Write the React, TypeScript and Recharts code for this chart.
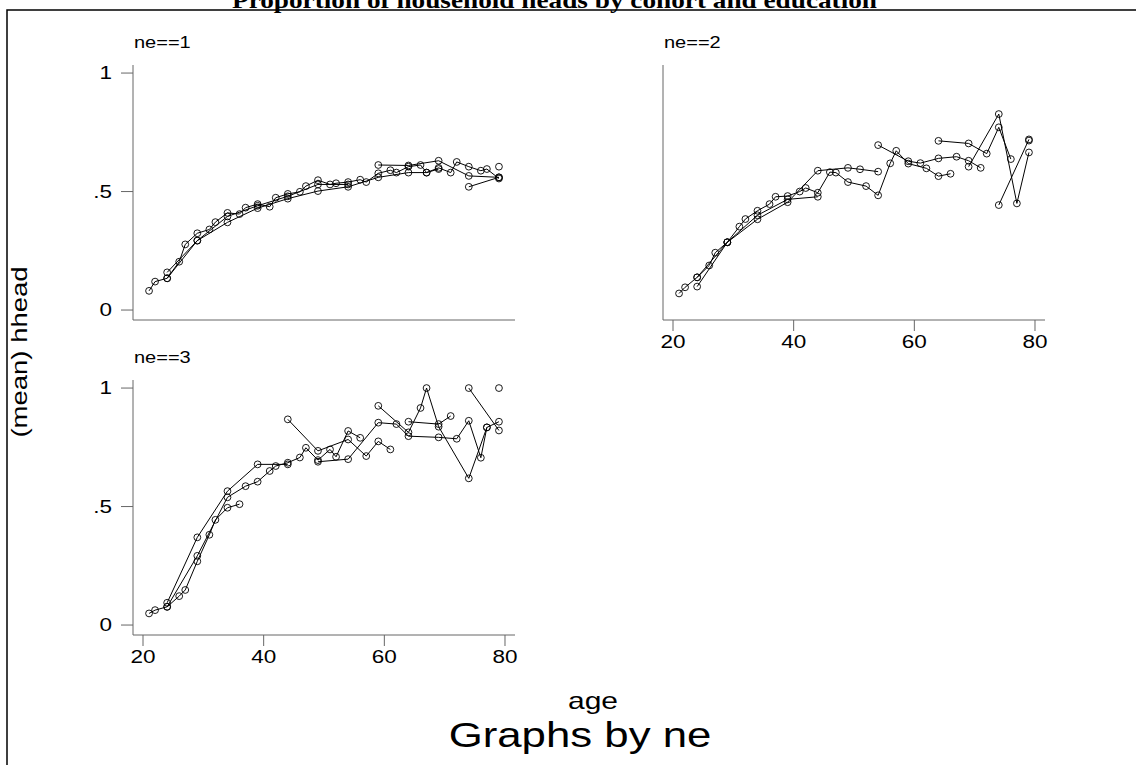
import React from 'react'
import { Scatter, ScatterChart, XAxis, YAxis } from 'recharts'

document.body.style.margin = '0'

type Pt = [number, number]

// ne == 1
const ne1A: Pt[] = [
  [21, 0.081], [22, 0.12], [24, 0.134], [26, 0.204], [27, 0.277], [29, 0.324], [31, 0.34],
  [32, 0.371], [34, 0.41], [36, 0.405], [37, 0.432], [39, 0.447], [41, 0.436], [42, 0.474],
  [44, 0.49], [46, 0.499], [47, 0.523], [49, 0.548], [51, 0.53], [52, 0.535], [54, 0.54],
  [56, 0.55], [57, 0.54], [59, 0.577], [61, 0.59], [62, 0.58], [64, 0.605], [66, 0.612],
  [67, 0.58], [69, 0.6], [71, 0.58], [72, 0.625], [74, 0.605], [76, 0.588], [77, 0.595], [79, 0.555],
]
const ne1B: Pt[] = [
  [24, 0.159], [29, 0.293], [34, 0.37], [39, 0.43], [44, 0.47], [49, 0.502], [54, 0.52],
  [59, 0.56], [64, 0.58], [67, 0.58], [69, 0.595],
]
const ne1C: Pt[] = [[24, 0.134], [29, 0.293], [34, 0.395], [39, 0.44], [44, 0.48], [49, 0.53], [54, 0.53]]
const ne1D: Pt[] = [[59, 0.612], [64, 0.61], [69, 0.63], [74, 0.566], [79, 0.56]]
const ne1E: Pt[] = [[74, 0.52], [79, 0.56]]
const ne1F: Pt[] = [[79, 0.605]]

// ne == 2
const ne2A: Pt[] = [
  [21, 0.07], [22, 0.096], [24, 0.138], [26, 0.188], [27, 0.242], [29, 0.286], [31, 0.352],
  [32, 0.384], [34, 0.419], [36, 0.447], [37, 0.478], [39, 0.481], [41, 0.5], [42, 0.515],
  [44, 0.495], [46, 0.582], [47, 0.58], [49, 0.54], [52, 0.523], [54, 0.484], [56, 0.619],
  [57, 0.672], [59, 0.618], [62, 0.598], [64, 0.565], [66, 0.575],
]
const ne2B: Pt[] = [[24, 0.099], [29, 0.286], [34, 0.4], [39, 0.467], [44, 0.478]]
const ne2C: Pt[] = [[24, 0.138], [29, 0.286], [34, 0.383], [39, 0.455], [44, 0.588], [49, 0.6], [51, 0.594], [54, 0.584]]
const ne2D: Pt[] = [[54, 0.696], [59, 0.628], [61, 0.62], [64, 0.64], [67, 0.647], [69, 0.63], [71, 0.6]]
const ne2E: Pt[] = [[64, 0.714], [69, 0.703], [72, 0.66], [74, 0.771], [76, 0.637]]
const ne2F: Pt[] = [[69, 0.605], [74, 0.827], [77, 0.45], [79, 0.665]]
const ne2G: Pt[] = [[74, 0.443], [79, 0.72]]
const ne2H: Pt[] = [[79, 0.715]]

// ne == 3
const ne3A: Pt[] = [
  [21, 0.049], [22, 0.063], [24, 0.077], [26, 0.122], [27, 0.148], [29, 0.269], [31, 0.381],
  [32, 0.444], [34, 0.495], [36, 0.51],
]
const ne3B: Pt[] = [[24, 0.094], [29, 0.37], [34, 0.565], [39, 0.678], [44, 0.678]]
const ne3C: Pt[] = [
  [24, 0.077], [29, 0.292], [34, 0.539], [37, 0.586], [39, 0.605], [41, 0.65], [42, 0.671],
  [44, 0.685], [46, 0.707], [47, 0.748], [49, 0.696], [51, 0.741], [52, 0.71], [54, 0.819], [56, 0.79],
]
const ne3D: Pt[] = [[44, 0.868], [49, 0.735], [54, 0.783], [57, 0.713], [59, 0.775], [61, 0.741]]
const ne3E: Pt[] = [
  [49, 0.689], [54, 0.7], [59, 0.854], [62, 0.848], [64, 0.797], [69, 0.792], [72, 0.786],
  [74, 0.862], [76, 0.706], [77, 0.834], [79, 0.858],
]
const ne3F: Pt[] = [[59, 0.925], [64, 0.813], [66, 0.916], [67, 1.0], [69, 0.837], [74, 0.619], [77, 0.834]]
const ne3G: Pt[] = [[64, 0.858], [69, 0.848], [71, 0.882]]
const ne3H: Pt[] = [[74, 1.0], [79, 0.821]]
const ne3I: Pt[] = [[79, 1.0]]

const panel1 = [ne1A, ne1B, ne1C, ne1D, ne1E, ne1F]
const panel2 = [ne2A, ne2B, ne2C, ne2D, ne2E, ne2F, ne2G, ne2H]
const panel3 = [ne3A, ne3B, ne3C, ne3D, ne3E, ne3F, ne3G, ne3H, ne3I]

const ageTicks = [20, 40, 60, 80]
const headTicks = [0, 0.5, 1]

const SANS = '"Liberation Sans", Arial, sans-serif'
const STRETCH = 1.25
const AXIS = '#666'

const fmtHead = (v: number) => (v === 0.5 ? '.5' : String(v))

const XTick = ({ x, y, payload }: any) => (
  <text
    transform={`translate(${x},${y + 14}) scale(${STRETCH},1)`}
    textAnchor="middle"
    fontFamily={SANS}
    fontSize={18}
    fill="#000"
  >
    {payload.value}
  </text>
)

const YTick = ({ x, y, payload }: any) => (
  <text
    transform={`translate(${x},${y + 6}) scale(${STRETCH},1)`}
    textAnchor="end"
    fontFamily={SANS}
    fontSize={18}
    fill="#000"
  >
    {fmtHead(payload.value)}
  </text>
)

const Ring = (props: any) => (
  <circle cx={props.cx} cy={props.cy} r={3.4} fill="none" stroke="#000" strokeWidth={0.9} />
)

function Panel({
  series,
  left,
  top,
  xLabels,
  yLabels,
}: {
  series: Pt[][]
  left: number
  top: number
  xLabels: boolean
  yLabels: boolean
}) {
  return (
    <div style={{ position: 'absolute', left, top }}>
      <ScatterChart width={560} height={360} margin={{ top: 65, left: 73, right: 45, bottom: 10 }}>
        <XAxis
          type="number"
          dataKey="x"
          domain={[18.34, 81.66]}
          ticks={ageTicks}
          allowDataOverflow
          height={30}
          tickSize={11}
          tickMargin={3}
          axisLine={{ stroke: AXIS }}
          tickLine={{ stroke: AXIS }}
          tick={xLabels ? <XTick /> : false}
        />
        <YAxis
          type="number"
          dataKey="y"
          domain={[-0.042, 1.034]}
          ticks={headTicks}
          allowDataOverflow
          width={60}
          tickSize={12}
          tickMargin={9}
          axisLine={{ stroke: AXIS }}
          tickLine={{ stroke: AXIS }}
          tick={yLabels ? <YTick /> : false}
        />
        {series.map((s, i) => (
          <Scatter
            key={i}
            data={s.map(([x, y]) => ({ x, y }))}
            line={{ stroke: '#000', strokeWidth: 1 }}
            shape={<Ring />}
            isAnimationActive={false}
          />
        ))}
      </ScatterChart>
    </div>
  )
}

function Stretched({
  x,
  y,
  size,
  anchor = 'start',
  rotate = 0,
  children,
}: {
  x: number
  y: number
  size: number
  anchor?: 'start' | 'middle' | 'end'
  rotate?: number
  children: React.ReactNode
}) {
  return (
    <text
      transform={`translate(${x},${y}) rotate(${rotate}) scale(${STRETCH},1)`}
      textAnchor={anchor}
      fontFamily={SANS}
      fontSize={size}
      fill="#000"
    >
      {children}
    </text>
  )
}

export default function App() {
  return (
    <div style={{ position: 'relative', width: 1136, height: 765, background: '#fff', overflow: 'hidden' }}>
      <Panel series={panel1} left={0} top={0} xLabels={false} yLabels />
      <Panel series={panel2} left={530} top={0} xLabels yLabels={false} />
      <Panel series={panel3} left={0} top={315} xLabels yLabels />
      <svg
        width={1136}
        height={765}
        style={{ position: 'absolute', left: 0, top: 0, pointerEvents: 'none' }}
      >
        <path d="M7 765 V10 H1136" fill="none" stroke="#000" strokeWidth={1.5} />
        {/* the title sits above the frame, partly off the top edge */}
        <text
          x={232}
          y={8}
          textLength={645}
          lengthAdjust="spacingAndGlyphs"
          fontFamily='"Liberation Serif", "Times New Roman", serif'
          fontWeight="bold"
          fontSize={23}
          fill="#000"
        >
          Proportion of household heads by cohort and education
        </text>
        <Stretched x={134} y={48} size={16}>ne==1</Stretched>
        <Stretched x={664} y={48} size={16}>ne==2</Stretched>
        <Stretched x={134} y={363} size={16}>ne==3</Stretched>
        <Stretched x={27} y={352} size={22} anchor="middle" rotate={-90}>(mean) hhead</Stretched>
        <Stretched x={593} y={709} size={24} anchor="middle">age</Stretched>
        <Stretched x={580} y={747} size={35} anchor="middle">Graphs by ne</Stretched>
      </svg>
    </div>
  )
}
